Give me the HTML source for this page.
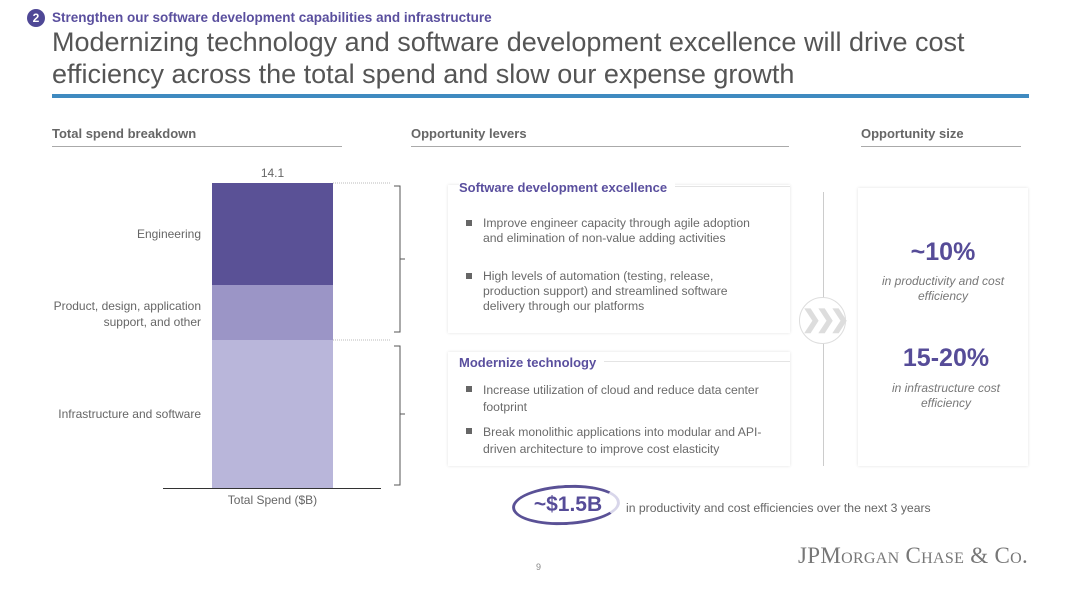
<!DOCTYPE html>
<html><head><meta charset="utf-8"><style>
*{margin:0;padding:0;box-sizing:border-box}
body{width:1080px;height:607px;background:#fff;position:relative;overflow:hidden;font-family:"Liberation Sans",sans-serif;color:#666}
.a{position:absolute;white-space:nowrap}
.h{font-size:13px;font-weight:bold;color:#666}
.ul{position:absolute;height:1px;background:#aaa}
.ph{font-size:13px;font-weight:bold;color:#5a4f9e}
.b{position:absolute;font-size:12.2px;line-height:15px;color:#6a6a6a;white-space:nowrap}
.b:before{content:"";position:absolute;left:-17px;top:4px;width:6px;height:6px;background:#666}
.big{font-size:25px;font-weight:bold;color:#564c98;text-align:center;width:170px}
.it{font-size:12px;font-style:italic;color:#777;text-align:center;width:170px;line-height:15px}
.panel{position:absolute;background:#fff;box-shadow:0 0 3px rgba(0,0,0,.12)}
</style></head><body>
<div class="a" style="left:27px;top:9px;width:18px;height:18px;border-radius:50%;background:#4f4896;color:#fff;font-size:12px;font-weight:bold;text-align:center;line-height:18px">2</div>
<div class="a" style="left:52px;top:10px;font-size:13.5px;font-weight:bold;color:#5a4f9e">Strengthen our software development capabilities and infrastructure</div>
<div class="a" style="left:52px;top:26px;font-size:27px;color:#555;line-height:32px">Modernizing technology and software development excellence will drive cost<br>efficiency across the total spend and slow our expense growth</div>
<div class="a" style="left:52px;top:94px;width:977px;height:4px;background:#3f8ac0"></div>

<div class="a h" style="left:52px;top:126px">Total spend breakdown</div><div class="ul" style="left:52px;top:146px;width:290px"></div>
<div class="a h" style="left:411px;top:126px">Opportunity levers</div><div class="ul" style="left:411px;top:146px;width:378px"></div>
<div class="a h" style="left:861px;top:126px">Opportunity size</div><div class="ul" style="left:861px;top:146px;width:160px"></div>

<div class="a" style="left:212px;top:166px;width:121px;text-align:center;font-size:12px">14.1</div>
<div class="a" style="left:212px;top:183px;width:121px;height:102px;background:#5a5196"></div>
<div class="a" style="left:212px;top:285px;width:121px;height:55px;background:#9b95c6"></div>
<div class="a" style="left:212px;top:340px;width:121px;height:148px;background:#b9b6da"></div>
<div class="a" style="left:163px;top:488px;width:218px;height:1px;background:#333"></div>
<div class="a" style="left:212px;top:493px;width:121px;text-align:center;font-size:12px">Total Spend ($B)</div>
<div class="a" style="right:879px;top:227px;font-size:12px">Engineering</div>
<div class="a" style="right:879px;top:298px;font-size:12px;text-align:right;line-height:16px">Product, design, application<br>support, and other</div>
<div class="a" style="right:879px;top:407px;font-size:12px">Infrastructure and software</div>
<svg class="a" style="left:330px;top:175px" width="80" height="320">
<g stroke="#bbb" stroke-dasharray="1,1"><line x1="3" y1="8" x2="60" y2="8"/><line x1="3" y1="165" x2="60" y2="165"/></g>
<g stroke="#555" fill="none" stroke-width="1"><path d="M64 11H70V157H64M70 84H75"/><path d="M64 171H70V310H64M70 239H75"/></g>
</svg>

<div class="panel" style="left:448px;top:185px;width:342px;height:148px"></div>
<div class="panel" style="left:448px;top:352px;width:342px;height:114px"></div>
<div class="a" style="left:459px;top:186px;width:331px;height:1px;background:#e4e4e4"></div>
<div class="a" style="left:459px;top:361px;width:331px;height:1px;background:#e4e4e4"></div>
<div class="a ph" style="left:459px;top:180px;background:#fff;padding-right:8px">Software development excellence</div>
<div class="b" style="left:483px;top:216px">Improve engineer capacity through agile adoption<br>and elimination of non-value adding activities</div>
<div class="b" style="left:483px;top:269px">High levels of automation (testing, release,<br>production support) and streamlined software<br>delivery through our platforms</div>
<div class="a ph" style="left:459px;top:355px;background:#fff;padding-right:8px">Modernize technology</div>
<div class="b" style="left:483px;top:382px;line-height:17px">Increase utilization of cloud and reduce data center<br>footprint</div>
<div class="b" style="left:483px;top:424px;line-height:17px">Break monolithic applications into modular and API-<br>driven architecture to improve cost elasticity</div>

<div class="a" style="left:823px;top:192px;width:1px;height:274px;background:#ccc"></div>
<div class="a" style="left:799px;top:297px;width:47px;height:47px;border-radius:50%;border:1px solid #ddd;background:#fff;color:#ddd;font-size:24px;font-weight:bold;text-align:center;line-height:44px;letter-spacing:-6px">❯❯❯</div>

<div class="panel" style="left:858px;top:188px;width:170px;height:278px"></div>
<div class="a big" style="left:858px;top:238px">~10%</div>
<div class="a it" style="left:858px;top:274px">in productivity and cost<br>efficiency</div>
<div class="a big" style="left:861px;top:344px">15-20%</div>
<div class="a it" style="left:861px;top:381px">in infrastructure cost<br>efficiency</div>

<div class="a" style="left:512px;top:485px;width:108px;height:40px;border-radius:50%;border:3px solid #5a5196;border-right-color:#d8d6ea;transform:rotate(-3deg)"></div>
<div class="a" style="left:514px;top:493px;width:108px;text-align:center;font-size:21px;font-weight:bold;color:#564c98">~$1.5B</div>
<div class="a" style="left:626px;top:501px;font-size:12.2px">in productivity and cost efficiencies over the next 3 years</div>

<div class="a" style="left:536px;top:562px;font-size:9px;color:#888">9</div>
<div class="a" style="right:52px;top:543px;font-family:'Liberation Serif',serif;font-size:23px;color:#777;font-variant:small-caps;letter-spacing:0.3px">JPMorgan Chase &amp; Co.</div>
</body></html>
